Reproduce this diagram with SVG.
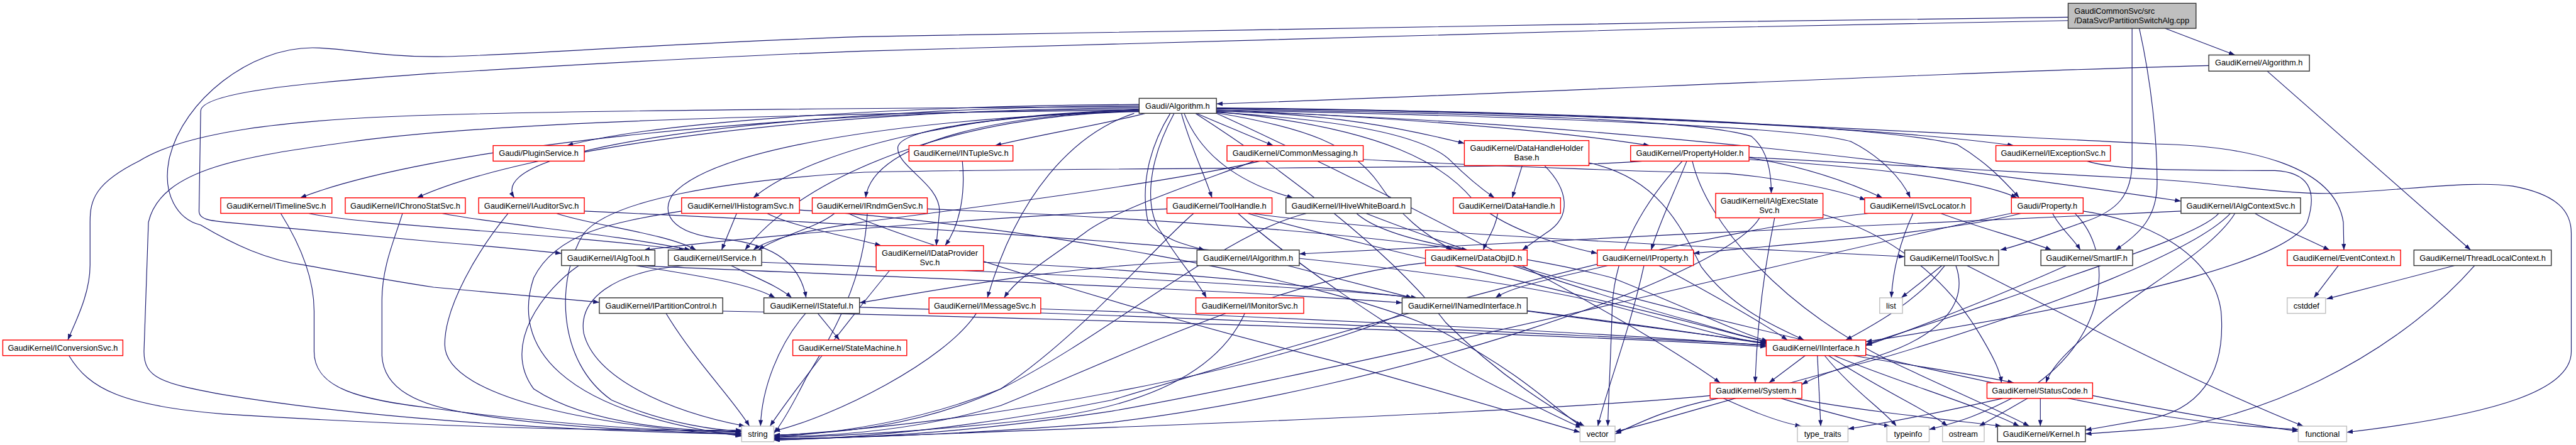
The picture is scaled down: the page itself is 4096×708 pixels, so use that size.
<svg xmlns="http://www.w3.org/2000/svg" width="4096" height="708" viewBox="0 0 4096 708">
<defs>
<marker id="a" markerWidth="11" markerHeight="8" refX="11" refY="4" orient="auto" markerUnits="userSpaceOnUse"><path d="M0,0 L11,4 L0,8 z" fill="#191970"/></marker>
<style>
.e{fill:none;stroke:#191970;stroke-width:1.3;marker-end:url(#a)}
.r{fill:#fff;stroke:#ff0000;stroke-width:1.6}
.b{fill:#fff;stroke:#333;stroke-width:1.6}
.g{fill:#fff;stroke:#bfbfbf;stroke-width:1.6}
.rt{fill:#bfbfbf;stroke:#333;stroke-width:1.6}
.t{font-family:'Liberation Sans',Arial,sans-serif;font-size:14.5px;fill:#000;text-anchor:middle}
.tl{font-family:'Liberation Sans',Arial,sans-serif;font-size:14.5px;fill:#000;text-anchor:start}
</style>
</defs>
<rect width="4096" height="708" fill="#fff"/>
<g transform="scale(0.884)">
<g id="edges">
<path class="e" d="M3894,51 L4020,99"/>
<path class="e" d="M3720,37 C3000,50 2400,64 1550,92 C1200,105 950,122 780,132 C560,148 361,165 361,200 L358,380 C358,396 380,398 428,402 C560,415 700,428 780,435 C880,443 950,450 1010,456"/>
<path class="e" d="M3720,31 C3000,40 2300,50 1550,66 C1150,80 900,102 780,102 C680,102 620,86 562,86 C450,86 330,180 305,283 C290,350 320,395 361,405 C420,440 480,468 547,477 C620,490 700,505 780,517 C900,528 1000,537 1078,544"/>
<path class="e" d="M3835,51 L3835,290 C3835,350 3810,380 3747,400 C3690,420 3640,440 3598,450"/>
<path class="e" d="M3848,51 C3870,150 3880,250 3880,330 C3880,390 3850,420 3805,450"/>
<path class="e" d="M3973,118 C3500,130 2700,170 2188,187"/>
<path class="e" d="M4078,128 L4444,450"/>
<path class="e" d="M4415,478 L4185,538"/>
<path class="e" d="M4451,478 C4300,650 4050,760 3875,772 L3751,781"/>
<path class="e" d="M4206,478 L4162,536"/>
<path class="e" d="M4056,384 C4100,410 4150,430 4190,450"/>
<path class="e" d="M2188,195 C2800,200 3300,230 3875,259 C4050,262 4200,300 4215,400 L4216,450"/>
<path class="e" d="M3146,283 C3500,300 3800,320 3880,323 C4000,330 4100,350 4200,348 C4350,340 4450,325 4520,335 C4600,350 4625,380 4625,420 L4625,633 C4625,700 4500,745 4221,778"/>
<path class="e" d="M2049,196 C1370,199 766,268 540,356"/>
<path class="e" d="M2049,194 C1464,197 945,267 750,356"/>
<path class="e" d="M2049,188 C1586,191 1174,221 1020,262"/>
<path class="e" d="M2049,190 C1543,193 860,250 925,356"/>
<path class="e" d="M2049,199 C1737,202 1459,270 1355,356"/>
<path class="e" d="M2049,200 C1828,203 1570,250 1557,356"/>
<path class="e" d="M2060,204 C1980,225 1880,240 1790,262"/>
<path class="e" d="M2049,201 C1730,204 1446,313 1340,450"/>
<path class="e" d="M2049,197 C1800,210 1620,230 1615,265 C1612,300 1690,330 1690,380 L1684,442"/>
<path class="e" d="M2040,204 C1930,240 1830,350 1776,536"/>
<path class="e" d="M2049,200 C1600,215 1280,270 1210,350 C1190,380 1200,420 1300,430 C1400,440 1440,480 1450,536"/>
<path class="e" d="M2049,198 C1400,205 900,220 647,253 C450,280 290,300 267,400 L259,633 C259,680 290,690 400,710 C700,760 1100,778 1334,781"/>
<path class="e" d="M2049,192 C1500,195 1000,200 780,207 C500,215 330,240 250,290 C170,330 162,360 162,400 L162,477 C162,530 135,580 122,612"/>
<path class="e" d="M2125,204 C2140,260 2165,310 2180,356"/>
<path class="e" d="M2105,204 C2070,260 2050,330 2065,400 C2090,430 2130,440 2167,450"/>
<path class="e" d="M2112,204 C2060,300 2060,380 2090,420 C2120,470 2150,500 2170,536"/>
<path class="e" d="M2152,204 C2200,225 2250,245 2290,262"/>
<path class="e" d="M2130,204 C2160,280 2230,330 2326,356"/>
<path class="e" d="M2188,200 C2400,205 2520,230 2634,258"/>
<path class="e" d="M2188,202 C2400,215 2560,240 2610,290 C2640,320 2665,340 2688,356"/>
<path class="e" d="M2188,198 C2500,210 2800,235 2967,262"/>
<path class="e" d="M2188,194 C2800,200 3400,230 3622,262"/>
<path class="e" d="M2188,196 C2700,205 3050,215 3150,245 C3180,270 3186,310 3186,348"/>
<path class="e" d="M2188,198 C2800,210 3250,230 3330,255 C3380,280 3420,320 3436,356"/>
<path class="e" d="M2188,195 C2900,200 3400,230 3520,260 C3570,290 3600,320 3632,356"/>
<path class="e" d="M2188,200 C2900,220 3500,300 3923,362"/>
<path class="e" d="M2188,203 C2350,230 2430,260 2480,330 C2520,390 2560,420 2612,450"/>
<path class="e" d="M2188,201 C2500,230 2600,300 2650,360 C2700,410 2800,440 2873,456"/>
<path class="e" d="M2188,204 C2400,300 2900,550 3094,689"/>
<path class="e" d="M2150,204 C2300,300 2500,450 2600,580 C2700,680 2800,740 2850,767"/>
<path class="e" d="M505,384 C540,440 565,500 565,560 L565,633 C565,700 650,720 780,735 C1000,765 1200,776 1334,778"/>
<path class="e" d="M555,384 C650,405 1000,420 1232,450"/>
<path class="e" d="M724,384 C710,430 687,480 687,540 L687,640 C690,700 750,730 850,745 C1000,770 1200,778 1334,780"/>
<path class="e" d="M795,384 C900,405 1100,420 1242,450"/>
<path class="e" d="M1001,384 C1060,405 1200,420 1252,450"/>
<path class="e" d="M914,384 C860,450 800,550 800,620 C800,720 1100,770 1334,783"/>
<path class="e" d="M1051,380 C1500,400 2500,450 2900,550 C3050,590 3120,612 3177,618"/>
<path class="e" d="M1380,384 C1420,405 1500,420 1585,442"/>
<path class="e" d="M1325,384 L1298,450"/>
<path class="e" d="M1226,380 C1100,400 1000,420 960,500 C920,620 1000,740 1334,785"/>
<path class="e" d="M1438,378 C1800,400 2400,500 2600,600 C2750,680 2800,740 2845,767"/>
<path class="e" d="M1501,384 C1470,410 1400,425 1364,450"/>
<path class="e" d="M1560,384 C1555,500 1500,600 1450,680 C1420,740 1400,770 1392,780"/>
<path class="e" d="M1668,376 C2000,390 2600,420 2900,500 C3050,560 3130,600 3180,614"/>
<path class="e" d="M1526,384 C1600,420 2000,550 2400,650 C2650,720 2780,760 2842,778"/>
<path class="e" d="M1731,290 C1736,340 1730,400 1700,442"/>
<path class="e" d="M2266,290 C2100,330 1700,380 1550,400 C1450,415 1380,430 1355,450"/>
<path class="e" d="M2256,290 C2150,330 2000,380 1950,420 C1880,470 1830,500 1806,536"/>
<path class="e" d="M2452,287 C2700,300 3000,310 3105,312 C3200,320 3300,340 3356,360"/>
<path class="e" d="M2099,376 C1800,390 1400,420 1158,450"/>
<path class="e" d="M2251,384 C2500,420 3000,440 3426,462"/>
<path class="e" d="M2147,384 C2080,440 1950,600 1800,700 C1650,770 1500,780 1392,783"/>
<path class="e" d="M2227,384 C2300,450 2500,600 2700,700 C2780,740 2820,760 2845,770"/>
<path class="e" d="M2244,384 C2400,430 2800,520 3000,570 C3100,595 3150,610 3180,616"/>
<path class="e" d="M2350,384 C2200,420 2000,600 1800,700 C1650,760 1500,780 1392,786"/>
<path class="e" d="M2440,384 C2480,420 2580,440 2640,450"/>
<path class="e" d="M2457,384 C2600,440 2900,540 3050,580 C3120,600 3150,610 3180,615"/>
<path class="e" d="M2738,298 L2720,356"/>
<path class="e" d="M2778,298 C2820,340 2830,390 2780,420 L2738,450"/>
<path class="e" d="M2858,293 C2980,320 3020,400 3060,480 C3120,560 3200,590 3245,612"/>
<path class="e" d="M2954,290 C2800,305 2000,300 1555,310 C1300,325 1100,360 1050,420 C1000,500 1000,650 1100,720 C1200,765 1300,775 1334,776"/>
<path class="e" d="M3026,290 C2960,360 2905,450 2900,550 C2897,650 2893,720 2892,767"/>
<path class="e" d="M3034,290 C3010,350 2985,400 2970,450"/>
<path class="e" d="M3146,287 C3350,300 3550,320 3628,356"/>
<path class="e" d="M3146,284 C3250,300 3330,330 3386,356"/>
<path class="e" d="M3044,290 C3070,400 3200,550 3400,650 C3550,720 3620,750 3650,767"/>
<path class="e" d="M2694,384 C2690,410 2675,430 2668,450"/>
<path class="e" d="M3165,392 C3100,500 2500,700 2000,760 C1700,785 1500,788 1392,790"/>
<path class="e" d="M3192,392 C3170,500 3160,600 3157,689"/>
<path class="e" d="M3279,386 C3400,420 3500,500 3560,600 C3590,650 3598,670 3600,689"/>
<path class="e" d="M3754,290 C3800,305 3900,307 4092,307 C4150,310 4170,340 4150,400 C4120,460 3900,530 3356,615"/>
<path class="e" d="M3361,384 C3000,420 2400,600 2000,720 C1700,780 1500,790 1392,792"/>
<path class="e" d="M3441,384 C3420,430 3405,480 3402,536"/>
<path class="e" d="M3491,384 C3560,410 3640,430 3690,450"/>
<path class="e" d="M3617,384 C3300,450 2500,650 2000,740 C1700,785 1500,790 1392,789"/>
<path class="e" d="M3635,384 C3500,420 3200,440 3046,456"/>
<path class="e" d="M3692,384 C3705,410 3730,430 3742,450"/>
<path class="e" d="M3747,380 C3850,395 3980,450 3995,560 C4005,680 3950,740 3860,755 L3751,774"/>
<path class="e" d="M3732,384 C3800,450 3800,600 3650,700 C3560,750 3520,760 3470,773"/>
<path class="e" d="M3923,380 C3500,400 2800,430 2337,457"/>
<path class="e" d="M3991,384 C3960,420 3800,470 3600,540 C3450,590 3400,605 3356,620"/>
<path class="e" d="M4012,384 C3950,450 3700,550 3400,640 C3100,720 2980,760 2905,777"/>
<path class="e" d="M4020,384 C3980,450 3850,520 3780,580 C3720,630 3690,660 3680,689"/>
<path class="e" d="M1041,478 C980,520 900,620 960,700 C1050,760 1200,775 1334,777"/>
<path class="e" d="M1143,478 C1250,495 1350,510 1394,536"/>
<path class="e" d="M1148,478 C1400,490 2200,520 2522,545"/>
<path class="e" d="M1230,478 C1100,490 1040,540 1050,600 C1070,680 1200,740 1340,767"/>
<path class="e" d="M1315,478 C1360,500 1400,515 1424,536"/>
<path class="e" d="M1370,472 C1700,485 2300,510 2549,536"/>
<path class="e" d="M1198,564 C1250,650 1320,720 1348,767"/>
<path class="e" d="M1300,560 C1800,570 2800,600 3177,624"/>
<path class="e" d="M1471,564 L1510,612"/>
<path class="e" d="M1449,564 C1400,620 1370,700 1368,767"/>
<path class="e" d="M1546,553 C2000,565 2800,600 3177,621"/>
<path class="e" d="M2153,470 C1900,480 1700,520 1546,545"/>
<path class="e" d="M2316,478 C2400,500 2480,520 2540,536"/>
<path class="e" d="M1600,487 C1540,560 1430,700 1385,767"/>
<path class="e" d="M1769,472 C2200,490 2800,560 3177,619"/>
<path class="e" d="M1756,564 C1700,650 1500,750 1392,776"/>
<path class="e" d="M1872,556 C2300,570 2900,600 3177,622"/>
<path class="e" d="M2239,564 C2200,650 2100,720 1900,750 C1700,775 1500,785 1392,788"/>
<path class="e" d="M2564,473 C2300,500 2000,650 1800,730 C1650,775 1500,785 1392,786"/>
<path class="e" d="M2728,478 C3000,560 3600,700 3900,750 C4000,765 4080,770 4134,773"/>
<path class="e" d="M2892,478 C2800,500 2720,515 2690,536"/>
<path class="e" d="M2957,478 C2930,600 2890,700 2874,767"/>
<path class="e" d="M2984,478 C3080,530 3170,580 3215,612"/>
<path class="e" d="M2524,564 C2300,660 1800,760 1392,784"/>
<path class="e" d="M2747,560 C2900,580 3050,600 3177,617"/>
<path class="e" d="M3493,478 L3420,536"/>
<path class="e" d="M3498,478 C3450,540 3380,580 3320,612"/>
<path class="e" d="M3518,478 C3540,540 3500,600 3380,640 C3320,660 3270,675 3241,692"/>
<path class="e" d="M3538,478 C3700,560 3950,690 4143,767"/>
<path class="e" d="M3717,478 C3600,530 3450,590 3356,622"/>
<path class="e" d="M3247,640 L3182,689"/>
<path class="e" d="M3269,640 L3275,767"/>
<path class="e" d="M3282,640 C3330,700 3390,740 3411,767"/>
<path class="e" d="M3289,640 C3380,700 3470,740 3503,767"/>
<path class="e" d="M3299,640 C3420,690 3560,730 3632,767"/>
<path class="e" d="M3334,640 C3450,660 3560,675 3622,689"/>
<path class="e" d="M3100,717 C3150,740 3200,760 3240,767"/>
<path class="e" d="M3204,717 C3280,740 3350,760 3400,767"/>
<path class="e" d="M3229,717 C3350,740 3500,755 3600,767"/>
<path class="e" d="M3076,712 C2800,740 2000,770 1392,792"/>
<path class="e" d="M3090,717 C3000,735 2950,760 2905,781"/>
<path class="e" d="M3602,717 C3500,740 3400,760 3324,772"/>
<path class="e" d="M3647,717 L3560,767"/>
<path class="e" d="M3670,717 L3670,767"/>
<path class="e" d="M3764,712 C3900,740 4050,765 4134,776"/>
<path class="e" d="M124,640 C160,700 220,730 400,745 C800,770 1100,776 1334,774"/>
</g>
<g id="n-root"><rect class="rt" x="3720" y="6" width="230" height="45"/><text class="tl" x="3731" y="25">GaudiCommonSvc/src</text><text class="tl" x="3731" y="42">/DataSvc/PartitionSwitchAlg.cpp</text></g>
<g id="n-kalg"><rect class="b" x="3973" y="99" width="181" height="29"/><text class="t" x="4063" y="118">GaudiKernel/Algorithm.h</text></g>
<g id="n-galg"><rect class="b" x="2049" y="177" width="139" height="27"/><text class="t" x="2118" y="196">Gaudi/Algorithm.h</text></g>
<g id="n-plug"><rect class="r" x="887" y="262" width="164" height="28"/><text class="t" x="969" y="281">Gaudi/PluginService.h</text></g>
<g id="n-ntup"><rect class="r" x="1635" y="262" width="187" height="28"/><text class="t" x="1728.5" y="281">GaudiKernel/INTupleSvc.h</text></g>
<g id="n-cmsg"><rect class="r" x="2207" y="262" width="245" height="28"/><text class="t" x="2329.5" y="281">GaudiKernel/CommonMessaging.h</text></g>
<g id="n-dhhb"><rect class="r" x="2634" y="253" width="224" height="45"/><text class="t" x="2746" y="272">GaudiKernel/DataHandleHolder</text><text class="t" x="2746" y="289">Base.h</text></g>
<g id="n-phld"><rect class="r" x="2933" y="262" width="213" height="28"/><text class="t" x="3039.5" y="281">GaudiKernel/PropertyHolder.h</text></g>
<g id="n-iexc"><rect class="r" x="3590" y="262" width="206" height="28"/><text class="t" x="3693" y="281">GaudiKernel/IExceptionSvc.h</text></g>
<g id="n-itim"><rect class="r" x="397" y="356" width="200" height="28"/><text class="t" x="497" y="375">GaudiKernel/ITimelineSvc.h</text></g>
<g id="n-ichr"><rect class="r" x="621" y="356" width="216" height="28"/><text class="t" x="729" y="375">GaudiKernel/IChronoStatSvc.h</text></g>
<g id="n-iaud"><rect class="r" x="861" y="356" width="190" height="28"/><text class="t" x="956" y="375">GaudiKernel/IAuditorSvc.h</text></g>
<g id="n-ihis"><rect class="r" x="1226" y="356" width="212" height="28"/><text class="t" x="1332" y="375">GaudiKernel/IHistogramSvc.h</text></g>
<g id="n-irnd"><rect class="r" x="1461" y="356" width="207" height="28"/><text class="t" x="1564.5" y="375">GaudiKernel/IRndmGenSvc.h</text></g>
<g id="n-toolh"><rect class="r" x="2099" y="356" width="189" height="28"/><text class="t" x="2193.5" y="375">GaudiKernel/ToolHandle.h</text></g>
<g id="n-ihive"><rect class="b" x="2313" y="356" width="225" height="28"/><text class="t" x="2425.5" y="375">GaudiKernel/IHiveWhiteBoard.h</text></g>
<g id="n-dhnd"><rect class="r" x="2614" y="356" width="193" height="28"/><text class="t" x="2710.5" y="375">GaudiKernel/DataHandle.h</text></g>
<g id="n-iaes"><rect class="r" x="3086" y="348" width="193" height="44"/><text class="t" x="3182.5" y="367">GaudiKernel/IAlgExecState</text><text class="t" x="3182.5" y="384">Svc.h</text></g>
<g id="n-isvc"><rect class="r" x="3354" y="356" width="191" height="28"/><text class="t" x="3449.5" y="375">GaudiKernel/ISvcLocator.h</text></g>
<g id="n-gprop"><rect class="r" x="3618" y="356" width="129" height="28"/><text class="t" x="3682.5" y="375">Gaudi/Property.h</text></g>
<g id="n-iacs"><rect class="b" x="3923" y="356" width="215" height="28"/><text class="t" x="4030.5" y="375">GaudiKernel/IAlgContextSvc.h</text></g>
<g id="n-ialgt"><rect class="b" x="1010" y="450" width="168" height="28"/><text class="t" x="1094" y="469">GaudiKernel/IAlgTool.h</text></g>
<g id="n-iserv"><rect class="b" x="1202" y="450" width="168" height="28"/><text class="t" x="1286" y="469">GaudiKernel/IService.h</text></g>
<g id="n-idps"><rect class="r" x="1576" y="442" width="193" height="45"/><text class="t" x="1672.5" y="460">GaudiKernel/IDataProvider</text><text class="t" x="1672.5" y="477">Svc.h</text></g>
<g id="n-ialgo"><rect class="b" x="2153" y="450" width="184" height="28"/><text class="t" x="2245" y="469">GaudiKernel/IAlgorithm.h</text></g>
<g id="n-doid"><rect class="r" x="2564" y="450" width="183" height="28"/><text class="t" x="2655.5" y="469">GaudiKernel/DataObjID.h</text></g>
<g id="n-iprop"><rect class="r" x="2873" y="450" width="173" height="28"/><text class="t" x="2959.5" y="469">GaudiKernel/IProperty.h</text></g>
<g id="n-itool"><rect class="b" x="3426" y="450" width="169" height="28"/><text class="t" x="3510.5" y="469">GaudiKernel/IToolSvc.h</text></g>
<g id="n-smart"><rect class="b" x="3671" y="450" width="165" height="28"/><text class="t" x="3753.5" y="469">GaudiKernel/SmartIF.h</text></g>
<g id="n-evctx"><rect class="r" x="4114" y="450" width="204" height="28"/><text class="t" x="4216" y="469">GaudiKernel/EventContext.h</text></g>
<g id="n-tlc"><rect class="b" x="4342" y="450" width="247" height="28"/><text class="t" x="4465.5" y="469">GaudiKernel/ThreadLocalContext.h</text></g>
<g id="n-ipctl"><rect class="b" x="1078" y="536" width="222" height="28"/><text class="t" x="1189" y="555">GaudiKernel/IPartitionControl.h</text></g>
<g id="n-istat"><rect class="b" x="1374" y="536" width="172" height="28"/><text class="t" x="1460" y="555">GaudiKernel/IStateful.h</text></g>
<g id="n-imsg"><rect class="r" x="1671" y="536" width="201" height="28"/><text class="t" x="1771.5" y="555">GaudiKernel/IMessageSvc.h</text></g>
<g id="n-imon"><rect class="r" x="2151" y="536" width="194" height="28"/><text class="t" x="2248" y="555">GaudiKernel/IMonitorSvc.h</text></g>
<g id="n-inamed"><rect class="b" x="2522" y="536" width="225" height="28"/><text class="t" x="2634.5" y="555">GaudiKernel/INamedInterface.h</text></g>
<g id="n-list"><rect class="g" x="3381" y="536" width="41" height="28"/><text class="t" x="3401.5" y="555">list</text></g>
<g id="n-cstd"><rect class="g" x="4114" y="536" width="69" height="28"/><text class="t" x="4148.5" y="555">cstddef</text></g>
<g id="n-iconv"><rect class="r" x="5" y="612" width="216" height="28"/><text class="t" x="113" y="631">GaudiKernel/IConversionSvc.h</text></g>
<g id="n-smach"><rect class="r" x="1426" y="612" width="205" height="28"/><text class="t" x="1528.5" y="631">GaudiKernel/StateMachine.h</text></g>
<g id="n-iint"><rect class="r" x="3177" y="612" width="179" height="28"/><text class="t" x="3266.5" y="631">GaudiKernel/IInterface.h</text></g>
<g id="n-sys"><rect class="r" x="3076" y="689" width="165" height="28"/><text class="t" x="3158.5" y="708">GaudiKernel/System.h</text></g>
<g id="n-stc"><rect class="r" x="3574" y="689" width="190" height="28"/><text class="t" x="3669" y="708">GaudiKernel/StatusCode.h</text></g>
<g id="n-str"><rect class="g" x="1334" y="767" width="58" height="28"/><text class="t" x="1363" y="786">string</text></g>
<g id="n-vec"><rect class="g" x="2842" y="767" width="63" height="28"/><text class="t" x="2873.5" y="786">vector</text></g>
<g id="n-tt"><rect class="g" x="3233" y="767" width="91" height="28"/><text class="t" x="3278.5" y="786">type_traits</text></g>
<g id="n-ti"><rect class="g" x="3394" y="767" width="76" height="28"/><text class="t" x="3432" y="786">typeinfo</text></g>
<g id="n-ost"><rect class="g" x="3494" y="767" width="75" height="28"/><text class="t" x="3531.5" y="786">ostream</text></g>
<g id="n-kern"><rect class="b" x="3593" y="767" width="158" height="28"/><text class="t" x="3672" y="786">GaudiKernel/Kernel.h</text></g>
<g id="n-func"><rect class="g" x="4134" y="767" width="87" height="28"/><text class="t" x="4177.5" y="786">functional</text></g>
</g>
</svg>
